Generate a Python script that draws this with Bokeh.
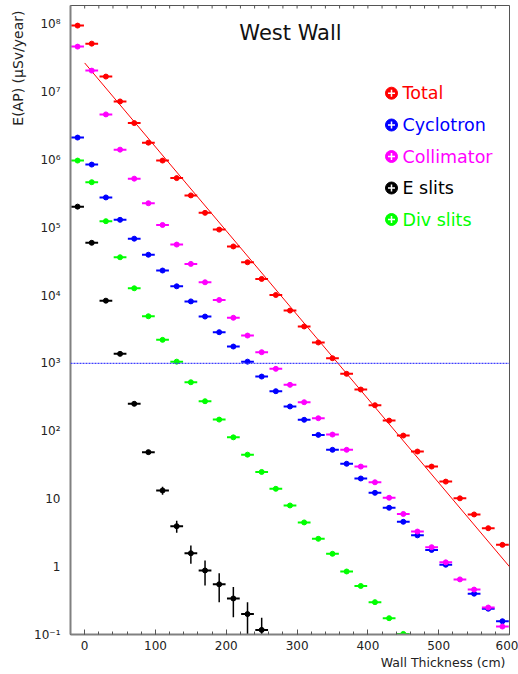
import numpy as np
from bokeh.plotting import figure
from bokeh.models import (FixedTicker, Span, Label, Title, ColumnDataSource)
from bokeh.core.properties import value
from bokeh.embed import file_html
from bokeh.resources import INLINE

# ---------------- data ----------------
thickness = [-10, 10, 30, 50, 70, 90, 110, 130, 150, 170,
             190, 210, 230, 250, 270, 290, 310, 330, 350, 370,
             390, 410, 430, 450, 470, 490, 510, 530, 550, 570, 590]

total = [9.6e7, 5.2e7, 1.7e7, 7.3e6, 3.5e6, 1.8e6, 9.8e5, 5.4e5, 3.0e5, 1.66e5,
         9.4e4, 5.3e4, 3.1e4, 1.76e4, 1.02e4, 6.0e3, 3.5e3, 2.03e3, 1.19e3, 700,
         411, 241, 143, 86, 50, 30, 18, 10.2, 5.9, 3.7, 2.1]

cyclotron = [2.14e6, 8.55e5, 2.8e5, 1.31e5, 6.9e4, 4.0e4, 2.34e4, 1.37e4, 8.2e3, 4.9e3,
             2.88e3, 1.77e3, 1.06e3, 638, 388, 231, 147, 88, 53, 33,
             20, 12.3, 7.4, 4.6, 2.9, 1.77, 1.07, None, 0.40, 0.24, 0.157]

collimator = [4.7e7, 2.08e7, 4.7e6, 1.42e6, 5.3e5, 2.3e5, 1.1e5, 5.65e4, 2.93e4, 1.57e4,
              8.6e3, 4.7e3, 2.57e3, 1.46e3, 830, 482, 267, 155, 89, 53,
              30, 17.6, 10.4, 6.0, 3.3, 1.94, 1.16, 0.65, 0.46, 0.25, 0.131]

e_slits = [2.05e5, 6.0e4, 8.4e3, 1.38e3, 253, 49, 13.3, 3.96, 1.58, 0.88,
           0.55, 0.34, 0.20, 0.117, None, None, None, None, None, None,
           None, None, None, None, None, None, None, None, None, None, None]

e_slits_err = [0, 0, 0, 0, 0, 3, 1.8, 0.8, 0.47, 0.35,
               0.25, 0.16, 0.10, 0.06, None, None, None, None, None, None,
               None, None, None, None, None, None, None, None, None, None, None]

div_slits = [9.8e5, 4.7e5, 1.25e5, 3.67e4, 1.28e4, 4.95e3, 2.22e3, 1.06e3, 526, 276,
             148, 81, 45, 25, 14.1, 8.0, 4.5, 2.58, 1.55, 0.85,
             0.52, 0.30, 0.174, 0.102, None, None, None, None, None, None, None]

fit_x = [0, 600]
fit_y = [2.7e7, 1.0]

limit_level = 1000

series_names = ["Total", "Cyclotron", "Collimator", "E slits", "Div slits"]
series_colors = ["#ff0000", "#0000ff", "#ff00ff", "#000000", "#00ff00"]

xtick_values = [0, 100, 200, 300, 400, 500, 600]
xminor_values = [-20, 0, 20, 40, 60, 80, 100, 120, 140, 160, 180, 200, 220, 240,
                 260, 280, 300, 320, 340, 360, 380, 400, 420, 440, 460, 480, 500,
                 520, 540, 560, 580, 600]
ytick_values = [0.1, 1.0, 10.0, 100.0, 1e3, 1e4, 1e5, 1e6, 1e7, 1e8]
ytick_labels = ["10\u207b\u00b9", "1", "10", "10\u00b2", "10\u00b3", "10\u2074",
                "10\u2075", "10\u2076", "10\u2077", "10\u2078"]

title_text = "West Wall"
x_title = "Wall Thickness (cm)"
y_title = "E(AP) (\u03bcSv/year)"

# ---------------- layout constants ----------------
W, H = 518, 674
FL, FR, FT, FB = 70, 509, 5, 634   # frame edges in canvas px
X0, X1 = -20, 600
Y0, Y1 = 0.1, 1.9e8
XERR = 9
FONT = "DejaVu Sans"

def px_to_x(px):
    return X0 + (px - FL) / (FR - FL) * (X1 - X0)

def py_to_y(py):
    l0, l1 = np.log10(Y0), np.log10(Y1)
    return 10 ** (l0 + (FB - py) / (FB - FT) * (l1 - l0))

p = figure(width=W, height=H, x_range=(X0, X1), y_range=(Y0, Y1),
           y_axis_type="log", output_backend="svg", toolbar_location=None,
           min_border_left=FL, min_border_right=W - FR,
           min_border_top=FT, min_border_bottom=H - FB)
p.xgrid.visible = False
p.ygrid.visible = False
p.background_fill_color = "white"
p.border_fill_color = "white"
p.outline_line_color = "#555555"
p.outline_line_width = 1

# x axis
xa = p.xaxis[0]
xa.ticker = FixedTicker(ticks=xtick_values, minor_ticks=xminor_values)
xa.major_tick_in = 5
xa.major_tick_out = 0
xa.minor_tick_in = 3
xa.minor_tick_out = 0
xa.axis_line_color = "#808080"
xa.axis_line_width = 2
xa.major_tick_line_color = "#555555"
xa.minor_tick_line_color = "#555555"
xa.major_label_text_font = FONT
xa.major_label_text_font_size = "12px"
xa.major_label_text_color = "#222222"
xa.major_label_standoff = 6

# y axis
ya = p.yaxis[0]
ya.ticker = FixedTicker(ticks=ytick_values, minor_ticks=[])
ya.major_label_overrides = {v: s for v, s in zip(ytick_values, ytick_labels)}
ya.major_tick_in = 0
ya.major_tick_out = 0
ya.minor_tick_in = 0
ya.minor_tick_out = 0
ya.axis_line_color = "#808080"
ya.axis_line_width = 2
ya.major_label_text_font = FONT
ya.major_label_text_font_size = "12px"
ya.major_label_text_color = "#222222"
ya.major_label_standoff = 10

# ticks along the top edge of the frame
ytop = Y1
ytick_minor_end = py_to_y(FT + 3)
p.segment(x0=xminor_values, y0=[ytop] * len(xminor_values),
          x1=xminor_values, y1=[ytick_minor_end] * len(xminor_values),
          line_color="#555555", line_width=1)

# limit line
p.add_layout(Span(location=limit_level, dimension="width", line_color="#4040ff",
                  line_width=1.2, line_dash="2 1"))

# fit line
p.line(fit_x, fit_y, line_color="#ff0000", line_width=1)


def draw(vals, color, yerr=None):
    x = np.array(thickness, dtype=float)
    y = np.array([np.nan if v is None else v for v in vals], dtype=float)
    m = ~np.isnan(y)
    data = dict(x=x[m], y=y[m], x0=x[m] - XERR, x1=x[m] + XERR)
    if yerr is not None:
        e = np.array([np.nan if v is None else v for v in yerr], dtype=float)[m]
        data["ylo"] = y[m] - e
        data["yhi"] = y[m] + e
    src = ColumnDataSource(data)
    p.segment(x0="x0", y0="y", x1="x1", y1="y", source=src,
              line_color=color, line_width=2)
    if yerr is not None:
        p.segment(x0="x", y0="ylo", x1="x", y1="yhi", source=src,
                  line_color=color, line_width=1.5)
    p.scatter("x", "y", source=src, size=5, marker="circle",
              fill_color=color, line_color=color)


draw(e_slits, series_colors[3], e_slits_err)
draw(div_slits, series_colors[4])
draw(cyclotron, series_colors[1])
draw(collimator, series_colors[2])
draw(total, series_colors[0])

# legend (hand-drawn, coloured texts)
leg_py = [92.7, 124.5, 156.0, 187.5, 219.0]
leg_y = [py_to_y(v) for v in leg_py]
mx = px_to_x(391)
tx = px_to_x(402)
p.scatter([mx] * 5, leg_y, size=12, marker="circle",
          fill_color=series_colors, line_color=series_colors)
p.scatter([mx] * 5, leg_y, size=7, marker="cross",
          line_color="white", line_width=1.5)
p.text([tx] * 5, leg_y, text=series_names, text_color=series_colors,
       text_font=value(FONT), text_font_size=value("17.5px"),
       text_baseline="middle", text_align="left")

# title inside the frame
p.add_layout(Label(x=290 - FL, y=FB - 32, x_units="screen", y_units="screen",
                   text=title_text, text_font=FONT, text_font_size="21px",
                   text_color="#111111", text_align="center", text_baseline="middle"))

# axis titles, aligned at the far ends like ROOT
p.add_layout(Title(text=y_title, align="right", text_font=FONT,
                   text_font_size="14px", text_font_style="normal",
                   text_color="#222222", standoff=8, offset=5,
                   vertical_align="top"), "left")
p.add_layout(Title(text=x_title, align="right", text_font=FONT,
                   text_font_size="12.5px", text_font_style="normal",
                   text_color="#222222", standoff=0, offset=4), "below")

open("out.html", "w").write(file_html(p, INLINE))
